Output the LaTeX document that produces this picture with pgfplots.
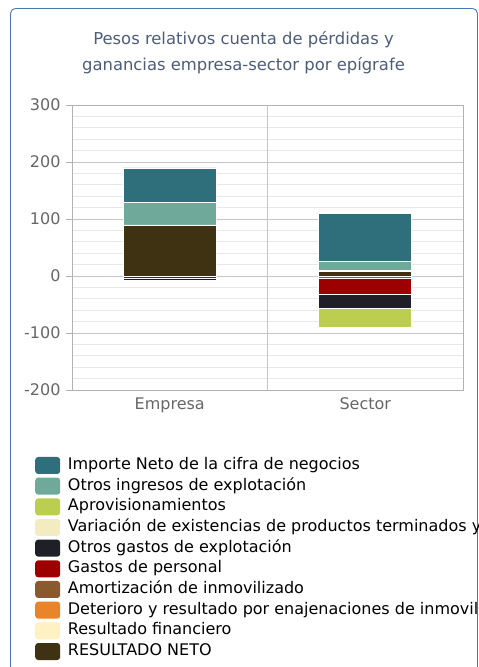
\documentclass[border=0pt]{standalone}
\usepackage{fontspec}
\setmainfont{DejaVu Sans}
\usepackage{pgfplots}
\pgfplotsset{compat=1.18}

\definecolor{cImporte}{HTML}{2F6E7B}
\definecolor{cOtrosIng}{HTML}{6FA99A}
\definecolor{cAprov}{HTML}{BCCE4E}
\definecolor{cVariacion}{HTML}{F3ECC0}
\definecolor{cOtrosGas}{HTML}{1E1F29}
\definecolor{cPersonal}{HTML}{9C0000}
\definecolor{cAmort}{HTML}{8A5A2F}
\definecolor{cDeterioro}{HTML}{E8852B}
\definecolor{cFinanc}{HTML}{FFF1C2}
\definecolor{cNeto}{HTML}{3E3213}
\definecolor{frame}{HTML}{4A77B4}
\definecolor{titlec}{HTML}{4D5D78}
\definecolor{labelc}{HTML}{666666}

\begin{document}
\begin{tikzpicture}[x=1pt,y=1pt]
\useasboundingbox (0,0) rectangle (479,667);
\clip (0,0) rectangle (478,667);
\draw[frame, line width=0.9pt, rounded corners=5pt] (10.5,658.5) rectangle (477.5,-20);
\node[titlec, font=\fontsize{16.4}{26}\selectfont, align=center] at (243.5,614) {Pesos relativos cuenta de pérdidas y\\ganancias empresa-sector por epígrafe};

\begin{axis}[
  at={(72pt,277pt)}, anchor=south west,
  scale only axis, width=391pt, height=285pt,
  ybar stacked, stack negative=separate, bar width=93pt,
  xmin=-0.5, xmax=1.5, ymin=-200, ymax=300,
  xtick={0,1}, xticklabels={Empresa,Sector},
  major x tick style={draw=none},
  extra x ticks={0.5},
  extra x tick labels={},
  extra x tick style={grid=major, major grid style={draw=gray!45, line width=0.8pt},
    major tick length=6pt, tick align=outside, tick style={draw=gray!60}},
  ytick={-200,-100,...,300},
  minor y tick num=4,
  ymajorgrids, yminorgrids,
  major grid style={draw=gray!45, line width=0.8pt},
  minor grid style={draw=gray!18, line width=0.8pt},
  minor y tick style={draw=none},
  major y tick style={draw=gray!60, line width=0.8pt},
  major tick length=6pt, tick align=outside,
  ytick pos=left, xtick pos=bottom,
  axis line style={draw=gray!60, line width=0.8pt},
  tick label style={font=\fontsize{16}{18}\selectfont, text=labelc},
  /pgf/number format/assume math mode=true,
  yticklabel style={xshift=-2pt},
  xticklabel style={yshift=1.5pt},
  reverse legend,
  legend cell align=left,
  legend style={at={(axis description cs:-0.0946,-0.2343)}, anchor=north west,
    draw=none, fill=none, inner sep=0pt, row sep=3.67pt, column sep=7.7pt,
    font=\fontsize{16}{18}\selectfont,
    nodes={inner xsep=0pt, inner ysep=0pt, text height=12pt, text depth=4pt}},
  legend image code/.code={\fill[#1, draw=none, rounded corners=3pt] (0pt,-8.5pt) rectangle (25pt,8.5pt);},
]
% plotted from the base of each stack outwards
\addplot[fill=cNeto, draw=white, line width=0.8pt] coordinates {(0,88) (1,8)};
\addlegendentry{RESULTADO NETO}
\addplot[fill=cFinanc, draw=white, line width=0.8pt] coordinates {(0,1.5) (1,2.5)};
\addlegendentry{Resultado financiero}
\addplot[fill=cDeterioro, draw=white, line width=0.8pt] coordinates {(0,0) (1,0)};
\addlegendentry{Deterioro y resultado por enajenaciones de inmovilizado}
\addplot[fill=cAmort, draw=white, line width=0.8pt] coordinates {(0,-1.5) (1,-5)};
\addlegendentry{Amortización de inmovilizado}
\addplot[fill=cPersonal, draw=white, line width=0.8pt] coordinates {(0,-2) (1,-27.5)};
\addlegendentry{Gastos de personal}
\addplot[fill=cOtrosGas, draw=white, line width=0.8pt] coordinates {(0,-3.5) (1,-23.5)};
\addlegendentry{Otros gastos de explotación}
\addplot[fill=cVariacion, draw=white, line width=0.8pt] coordinates {(0,0) (1,0)};
\addlegendentry{Variación de existencias de productos terminados y en curso}
\addplot[fill=cAprov, draw=white, line width=0.8pt] coordinates {(0,0) (1,-33.5)};
\addlegendentry{Aprovisionamientos}
\addplot[fill=cOtrosIng, draw=white, line width=0.8pt] coordinates {(0,39) (1,15.5)};
\addlegendentry{Otros ingresos de explotación}
\addplot[fill=cImporte, draw=white, line width=0.8pt] coordinates {(0,61) (1,84)};
\addlegendentry{Importe Neto de la cifra de negocios}
\end{axis}
\end{tikzpicture}
\end{document}
